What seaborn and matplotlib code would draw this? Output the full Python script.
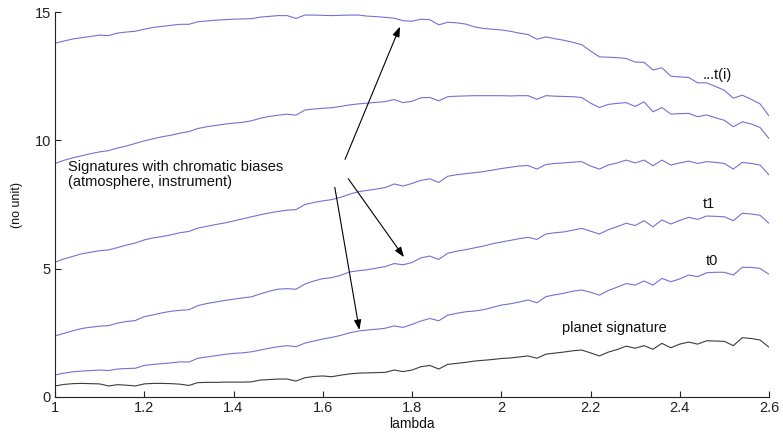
import matplotlib
matplotlib.use("Agg")
import matplotlib.pyplot as plt
import seaborn as sns
import numpy as np
import pandas as pd

# wavelength grid (lambda), step 0.02
lam = [round(1.0 + 0.02 * i, 2) for i in range(81)]

planet = [0.43, 0.49, 0.52, 0.53, 0.52, 0.51, 0.43, 0.48, 0.46, 0.43,
          0.51, 0.53, 0.53, 0.52, 0.50, 0.45, 0.56, 0.57, 0.57, 0.58,
          0.58, 0.58, 0.59, 0.66, 0.68, 0.70, 0.70, 0.62, 0.75, 0.80,
          0.82, 0.79, 0.85, 0.90, 0.93, 0.94, 0.95, 0.96, 1.05, 0.99,
          1.05, 1.18, 1.23, 1.09, 1.27, 1.31, 1.35, 1.40, 1.43, 1.46,
          1.50, 1.52, 1.56, 1.60, 1.51, 1.67, 1.71, 1.75, 1.80, 1.83,
          1.72, 1.60, 1.75, 1.85, 1.98, 1.90, 2.00, 1.86, 2.09, 1.92,
          2.06, 2.14, 2.06, 2.19, 2.18, 2.17, 2.00, 2.31, 2.28, 2.22,
          1.94]

t0 = [0.86, 0.93, 0.98, 1.01, 1.03, 1.05, 1.03, 1.09, 1.11, 1.12,
      1.23, 1.27, 1.30, 1.33, 1.37, 1.36, 1.51, 1.56, 1.61, 1.66,
      1.70, 1.72, 1.76, 1.83, 1.90, 1.96, 2.00, 1.96, 2.10, 2.18,
      2.26, 2.32, 2.40, 2.50, 2.57, 2.61, 2.64, 2.68, 2.77, 2.71,
      2.83, 2.96, 3.06, 2.97, 3.19, 3.26, 3.32, 3.35, 3.40, 3.49,
      3.58, 3.63, 3.70, 3.78, 3.67, 3.91, 3.98, 4.04, 4.12, 4.17,
      4.08, 3.97, 4.15, 4.28, 4.42, 4.36, 4.52, 4.36, 4.62, 4.49,
      4.60, 4.75, 4.69, 4.84, 4.86, 4.86, 4.75, 5.05, 5.05, 5.01,
      4.78]

t1 = [2.38, 2.48, 2.58, 2.67, 2.72, 2.76, 2.78, 2.88, 2.94, 2.98,
      3.13, 3.20, 3.28, 3.34, 3.38, 3.40, 3.56, 3.64, 3.70, 3.76,
      3.81, 3.86, 3.90, 4.02, 4.12, 4.20, 4.22, 4.20, 4.40, 4.52,
      4.61, 4.65, 4.74, 4.87, 4.92, 4.96, 5.02, 5.08, 5.20, 5.15,
      5.24, 5.42, 5.49, 5.36, 5.60, 5.68, 5.74, 5.81, 5.88, 5.97,
      6.04, 6.10, 6.17, 6.22, 6.14, 6.35, 6.40, 6.43, 6.50, 6.57,
      6.46, 6.35, 6.52, 6.64, 6.77, 6.68, 6.87, 6.63, 6.90, 6.74,
      6.88, 7.00, 6.92, 7.05, 7.04, 7.02, 6.87, 7.16, 7.13, 7.08,
      6.77]

t2 = [5.25, 5.38, 5.48, 5.58, 5.64, 5.70, 5.73, 5.82, 5.92, 6.00,
      6.12, 6.20, 6.25, 6.32, 6.40, 6.45, 6.58, 6.65, 6.72, 6.78,
      6.86, 6.94, 7.02, 7.10, 7.17, 7.23, 7.28, 7.30, 7.50, 7.58,
      7.64, 7.69, 7.78, 7.90, 8.00, 8.05, 8.10, 8.16, 8.30, 8.22,
      8.32, 8.44, 8.50, 8.36, 8.60, 8.66, 8.70, 8.74, 8.78, 8.84,
      8.90, 8.95, 9.00, 9.02, 8.88, 9.06, 9.10, 9.12, 9.15, 9.17,
      9.00, 8.88, 9.04, 9.12, 9.23, 9.12, 9.23, 9.01, 9.23, 9.04,
      9.12, 9.19, 9.10, 9.17, 9.14, 9.10, 8.88, 9.14, 9.10, 9.04,
      8.65]

t3 = [9.10, 9.22, 9.32, 9.40, 9.48, 9.55, 9.60, 9.70, 9.78, 9.88,
      9.98, 10.06, 10.14, 10.20, 10.28, 10.34, 10.46, 10.53, 10.58, 10.63,
      10.67, 10.70, 10.76, 10.86, 10.93, 10.98, 11.02, 10.98, 11.18, 11.22,
      11.25, 11.27, 11.32, 11.38, 11.42, 11.45, 11.48, 11.51, 11.59, 11.47,
      11.52, 11.66, 11.67, 11.54, 11.70, 11.72, 11.73, 11.74, 11.74, 11.74,
      11.74, 11.73, 11.74, 11.74, 11.60, 11.74, 11.72, 11.71, 11.70, 11.67,
      11.45, 11.28, 11.40, 11.44, 11.47, 11.32, 11.50, 11.11, 11.28, 11.02,
      11.04, 11.05, 10.92, 10.99, 10.88, 10.78, 10.53, 10.72, 10.64, 10.50,
      10.07]

ti = [13.78, 13.87, 13.95, 14.00, 14.05, 14.10, 14.08, 14.18, 14.22, 14.25,
      14.33, 14.40, 14.44, 14.48, 14.52, 14.52, 14.62, 14.65, 14.68, 14.70,
      14.72, 14.73, 14.74, 14.80, 14.83, 14.86, 14.86, 14.75, 14.88, 14.88,
      14.87, 14.86, 14.87, 14.88, 14.88, 14.84, 14.82, 14.79, 14.76, 14.66,
      14.64, 14.72, 14.70, 14.50, 14.60, 14.58, 14.53, 14.42, 14.36, 14.33,
      14.30, 14.25, 14.18, 14.12, 13.94, 14.03, 13.96, 13.90, 13.82, 13.73,
      13.48, 13.25, 13.24, 13.22, 13.19, 13.05, 13.04, 12.74, 12.83, 12.50,
      12.47, 12.45, 12.24, 12.24, 12.10, 11.95, 11.64, 11.76, 11.60, 11.42,
      10.95]

series_names = ["planet", "t0", "t1", "t2", "t3", "ti"]
series_values = [planet, t0, t1, t2, t3, ti]

x_ticks = [1, 1.2, 1.4, 1.6, 1.8, 2, 2.2, 2.4, 2.6]
x_tick_labels = ["1", "1.2", "1.4", "1.6", "1.8", "2", "2.2", "2.4", "2.6"]
y_ticks = [0, 5, 10, 15]
y_tick_labels = ["0", "5", "10", "15"]

df = pd.concat(
    [pd.DataFrame({"lambda": lam, "value": v, "series": n})
     for n, v in zip(series_names, series_values)],
    ignore_index=True,
)

sns.set_theme(style="white")
plt.rcParams["font.family"] = ["Liberation Sans", "DejaVu Sans"]

blue = "#7272d4"
palette = {"planet": "#3c3c3c", "t0": blue, "t1": blue, "t2": blue,
           "t3": blue, "ti": blue}

fig = plt.figure(figsize=(7.83, 4.32), dpi=100)
ax = fig.add_axes([55 / 783, 1 - 397 / 432, (769 - 55) / 783, (397 - 12) / 432])

sns.lineplot(data=df, x="lambda", y="value", hue="series", palette=palette,
             linewidth=0.8, legend=False, ax=ax, estimator=None, sort=False)

ax.set_xlim(1, 2.6)
ax.set_ylim(0, 15)
ax.set_xticks(x_ticks)
ax.set_xticklabels(x_tick_labels)
ax.set_yticks(y_ticks)
ax.set_yticklabels(y_tick_labels)
ax.tick_params(direction="in", length=4, width=0.8, colors="#222222",
               labelsize=10.5, bottom=True, left=True, pad=3)
for s in ["top", "right"]:
    ax.spines[s].set_visible(False)
for s in ["left", "bottom"]:
    ax.spines[s].set_color("#222222")
    ax.spines[s].set_linewidth(0.8)

ax.set_xlabel("lambda", fontsize=10, color="#111111", labelpad=1)
ax.set_ylabel("(no unit)", fontsize=9, color="#111111", labelpad=8)

tc = "#111111"
ax.text(1.029, 8.67, "Signatures with chromatic biases\n(atmosphere, instrument)",
        fontsize=10.5, color=tc, va="center", ha="left", linespacing=1.15)
ax.text(2.452, 12.54, "...t(i)", fontsize=10.5, color=tc, va="center", ha="left")
ax.text(2.452, 7.52, "t1", fontsize=10.5, color=tc, va="center", ha="left")
ax.text(2.459, 5.30, "t0", fontsize=10.5, color=tc, va="center", ha="left")
ax.text(2.136, 2.69, "planet signature", fontsize=10.5, color=tc,
        va="center", ha="left")

arrow_kw = dict(arrowstyle="-|>,head_length=0.5,head_width=0.18",
                color="black", lw=0.8, shrinkA=0, shrinkB=0)
ax.annotate("", xy=(1.773, 14.43), xytext=(1.650, 9.26), arrowprops=arrow_kw)
ax.annotate("", xy=(1.782, 5.45), xytext=(1.657, 8.51), arrowprops=arrow_kw)
ax.annotate("", xy=(1.682, 2.61), xytext=(1.627, 8.17), arrowprops=arrow_kw)

fig.savefig("out.png", dpi=100)
